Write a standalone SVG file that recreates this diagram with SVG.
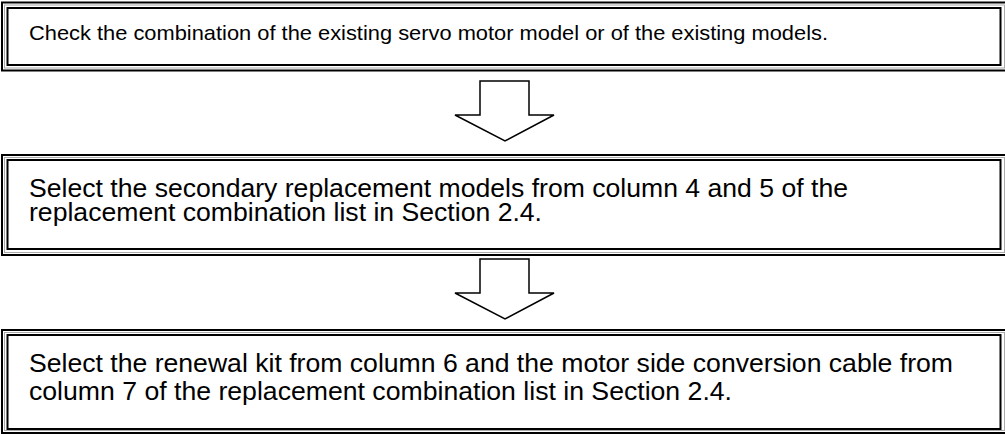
<svg xmlns="http://www.w3.org/2000/svg" width="1005" height="434" viewBox="0 0 1005 434">
<style>
.o{fill:none;stroke:#000;stroke-width:2}
.m{fill:none;stroke:#aaa;stroke-width:1}
.i{fill:#fff;stroke:#000;stroke-width:2}
.t{font-family:"Liberation Sans",Arial,sans-serif;fill:#000}
.s{font-size:21px}
.b{font-size:26px}
.a{fill:#fff;stroke:#000;stroke-width:1.5;stroke-linejoin:miter}
</style>
<rect width="1005" height="434" fill="#fff"/>
<g id="node1">
<rect class="o" x="2" y="2.5" width="1010" height="68"/>
<rect class="m" x="4.5" y="5" width="1000" height="63"/>
<rect class="i" x="7.5" y="8" width="993" height="57"/>
<text class="t s" x="29" y="39.5" textLength="799" lengthAdjust="spacingAndGlyphs">Check the combination of the existing servo motor model or of the existing models.</text>
</g>
<g id="node2">
<rect class="o" x="2" y="155" width="1010" height="100"/>
<rect class="m" x="4.5" y="157.5" width="1000" height="95"/>
<rect class="i" x="7.5" y="160" width="993" height="89"/>
<text class="t b" x="29" y="197" textLength="819" lengthAdjust="spacingAndGlyphs">Select the secondary replacement models from column 4 and 5 of the</text>
<text class="t b" x="29" y="220.5" textLength="513" lengthAdjust="spacingAndGlyphs">replacement combination list in Section 2.4.</text>
</g>
<g id="node3">
<rect class="o" x="2" y="330" width="1010" height="103"/>
<rect class="m" x="4.5" y="332.5" width="1000" height="98"/>
<rect class="i" x="7.5" y="335" width="993" height="94"/>
<text class="t b" x="29" y="372" textLength="924" lengthAdjust="spacingAndGlyphs">Select the renewal kit from column 6 and the motor side conversion cable from</text>
<text class="t b" x="29" y="400" textLength="703" lengthAdjust="spacingAndGlyphs">column 7 of the replacement combination list in Section 2.4.</text>
</g>
<g id="connectors">
<polygon class="a" points="480,81 529,81 529,115 554,115 505,141 455,115 480,115"/>
<polygon class="a" points="480,259 529,259 529,293 554,293 505,319 455,293 480,293"/>
</g>
</svg>
